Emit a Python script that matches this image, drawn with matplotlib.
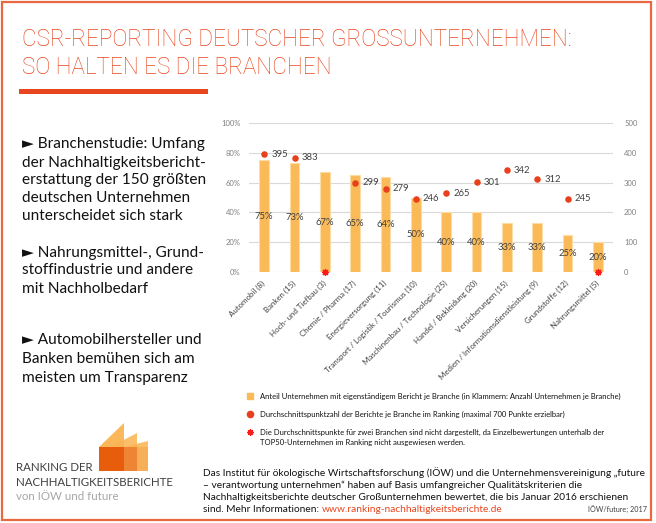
import numpy as np
import matplotlib
matplotlib.use("Agg")
import matplotlib.pyplot as plt
from matplotlib.patches import Rectangle, Polygon

# ---------------- data ----------------
categories = ["Automobil (8)", "Banken (15)", "Hoch- und Tiefbau (3)", "Chemie / Pharma (17)",
              "Energieversorgung (11)", "Transport / Logistik / Tourismus (10)",
              "Maschinenbau / Technologie (25)", "Handel / Bekleidung (20)",
              "Versicherungen (15)", "Medien / Informationsdienstleistung (9)",
              "Grundstoffe (12)", "Nahrungsmittel (5)"]
share_pct = [75, 73, 67, 65, 64, 50, 40, 40, 33, 33, 25, 20]
avg_points = [395, 383, np.nan, 299, 279, 246, 265, 301, 342, 312, 245, np.nan]
not_shown = [2, 11]  # indices with star marker (no points shown)

left_ticks = [0, 20, 40, 60, 80, 100]
right_ticks = [0, 100, 200, 300, 400, 500]

title_lines = ["CSR-REPORTING DEUTSCHER GROSSUNTERNEHMEN:", "SO HALTEN ES DIE BRANCHEN"]
bullets = [["\u25BA Branchenstudie: Umfang", "der Nachhaltigkeitsbericht-", "erstattung der 150 größten",
            "deutschen Unternehmen", "unterscheidet sich stark"],
           ["\u25BA Nahrungsmittel-, Grund-", "stoffindustrie und andere", "mit Nachholbedarf"],
           ["\u25BA Automobilhersteller und", "Banken bemühen sich am", "meisten um Transparenz"]]
legend_texts = ["Anteil Unternehmen mit eigenständigem Bericht je Branche (in Klammern: Anzahl Unternehmen je Branche)",
                "Durchschnittspunktzahl der Berichte je Branche im Ranking (maximal 700 Punkte erzielbar)",
                "Die Durchschnittspunkte für zwei Branchen sind nicht dargestellt, da Einzelbewertungen unterhalb der",
                "TOP50-Unternehmen im Ranking nicht ausgewiesen werden."]
para_lines = ["Das Institut für ökologische Wirtschaftsforschung (IÖW) und die Unternehmensvereinigung \u201Efuture",
              "\u2013 verantwortung unternehmen\u201C haben auf Basis umfangreicher Qualitätskriterien die",
              "Nachhaltigkeitsberichte deutscher Großunternehmen bewertet, die bis Januar 2016 erschienen",
              "sind. Mehr Informationen: "]
url = "www.ranking-nachhaltigkeitsberichte.de"
logo_lines = ["RANKING DER", "NACHHALTIGKEITSBERICHTE", "von IÖW und future"]
source = "IÖW/future; 2017"

# ---------------- style ----------------
W, H = 656, 523
FONT = ["Lato", "DejaVu Sans"]
TITLE_FONT = ["Roboto", "Lato", "DejaVu Sans"]
ORANGE = "#E8461E"
BAR = "#FBBA58"
DOT = "#E8401C"
DARK = "#404040"
plt.rcParams["font.family"] = FONT

fig = plt.figure(figsize=(W / 100, H / 100), dpi=100)
renderer = fig.canvas.get_renderer()

# overlay axes in pixel coordinates
ov = fig.add_axes([0, 0, 1, 1], zorder=0)
ov.set_xlim(0, W)
ov.set_ylim(H, 0)
ov.axis("off")


def put(x, y, s, size, **kw):
    kw.setdefault("va", "baseline")
    kw.setdefault("ha", "left")
    return ov.text(x, y, s, fontsize=size, **kw)


def fit_size(s, width, size0=10, **kw):
    t = ov.text(0, 0, s, fontsize=size0, **kw)
    w = t.get_window_extent(renderer).width
    t.remove()
    return size0 * width / w


# frame
ov.add_patch(Rectangle((2, 1.5), 649, 518, fill=False, edgecolor="#E9683F", lw=1.6))

# title
ts = fit_size(title_lines[0], 550, family=TITLE_FONT, fontweight="light")
put(22, 46, title_lines[0], ts, color=ORANGE, family=TITLE_FONT, fontweight="light")
put(22, 74, title_lines[1], ts, color=ORANGE, family=TITLE_FONT, fontweight="light")
ov.add_patch(Rectangle((19, 89), 189, 5, color=ORANGE, lw=0))

# bullets
bs = fit_size(bullets[0][0], 183)
baselines = [[148, 167, 184, 202, 220], [257, 274, 293], [344, 363, 382]]
for para, bl in zip(bullets, baselines):
    for s, y in zip(para, bl):
        put(22, y, s, bs, color="#111111")

# logo graphic
ov.add_patch(Polygon([(99, 447), (124, 423), (124, 447)], closed=True, color="#FBB452", alpha=0.95, lw=0))
ov.add_patch(Polygon([(110, 447), (137, 433), (137, 447)], closed=True, color="#FBB452", alpha=0.85, lw=0))
ov.add_patch(Polygon([(124, 447), (148, 441), (148, 447)], closed=True, color="#FBB452", alpha=0.85, lw=0))
ov.add_patch(Rectangle((99, 447), 25, 24, color="#E85D0C", lw=0))
ov.add_patch(Rectangle((124, 447), 13, 24, color="#EE8535", lw=0))
ov.add_patch(Rectangle((137, 447), 11, 24, color="#F7AE58", lw=0))
ls = fit_size(logo_lines[1], 157)
put(16, 471, logo_lines[0], ls, color=DARK)
put(16, 486, logo_lines[1], ls, color=DARK)
put(16, 500, logo_lines[2], ls, color="#A6A6A6")

# bottom paragraph
ps = fit_size(para_lines[0], 439)
for s, y in zip(para_lines, [476, 488, 500, 512]):
    t = put(203, y, s, ps, color="#111111")
t4w = t.get_window_extent(renderer).width
put(203 + t4w, 512, url, ps, color=ORANGE)
put(647, 512, source, ps * 0.72, color=DARK, ha="right")

# legend
lgs = fit_size(legend_texts[0], 358)
ov.scatter([250], [396], marker="s", s=14, color=BAR, zorder=5)
ov.scatter([250], [414], marker="o", s=20, color=DOT, zorder=5)
ov.scatter([250], [432], marker=(8, 2, 0), s=16, color="#FF1A1A", linewidths=1.0, zorder=5)
for s, y in zip(legend_texts, [399, 417, 435, 445]):
    put(260, y, s, lgs, color="#111111")

# ---------------- chart ----------------
left, right, top, bottom = 249, 613, 123, 272
ax = fig.add_axes([left / W, 1 - bottom / H, (right - left) / W, (bottom - top) / H], zorder=2)
ax.set_facecolor("none")
x = np.arange(len(categories))
share = np.array(share_pct) / 100.0
ax.bar(x, share, width=0.32, color=BAR, edgecolor="#FDDDA6", linewidth=0.8, zorder=2)
for xi, v, p in zip(x, share, share_pct):
    ax.text(xi, v / 2, f"{p}%", ha="center", va="center", fontsize=6.8, color=DARK, zorder=3)
ax.set_xlim(-0.5, len(categories) - 0.5)
ax.set_ylim(0, 1)
ax.set_yticks(np.array(left_ticks) / 100)
ax.set_yticklabels([f"{t}%" for t in left_ticks], fontsize=5.5, color="#808080")
ax.grid(axis="y", color="#D9D9D9", lw=0.8, zorder=0)
ax.set_axisbelow(True)
ax.set_xticks(x)
ax.set_xticklabels(categories, rotation=45, ha="right", va="center", rotation_mode="anchor",
                   fontsize=5.7, color=DARK)
ax.tick_params(axis="both", length=0)
ax.tick_params(axis="y", pad=6)
ax.tick_params(axis="x", pad=7)
for sp in ax.spines.values():
    sp.set_visible(False)

ax2 = ax.twinx()
ax2.set_zorder(3)
ax2.set_ylim(0, 500)
ax2.set_yticks(right_ticks)
ax2.set_yticklabels([str(t) for t in right_ticks], fontsize=5.5, color="#808080")
ax2.tick_params(axis="y", length=0, pad=8)
for sp in ax2.spines.values():
    sp.set_visible(False)
pts = np.array(avg_points, dtype=float)
ax2.scatter(x, pts, s=22, color=DOT, zorder=4, linewidths=0)
for xi, v in zip(x, pts):
    if not np.isnan(v):
        ax2.annotate(f"{int(v)}", (xi, v), xytext=(5, 0), textcoords="offset points",
                     ha="left", va="center", fontsize=6.8, color=DARK)
ax2.scatter(x[not_shown], [0] * len(not_shown), marker=(8, 2, 0), s=18, color="#FF1A1A",
            linewidths=1.0, zorder=5, clip_on=False)

fig.savefig("out.png", dpi=100)
